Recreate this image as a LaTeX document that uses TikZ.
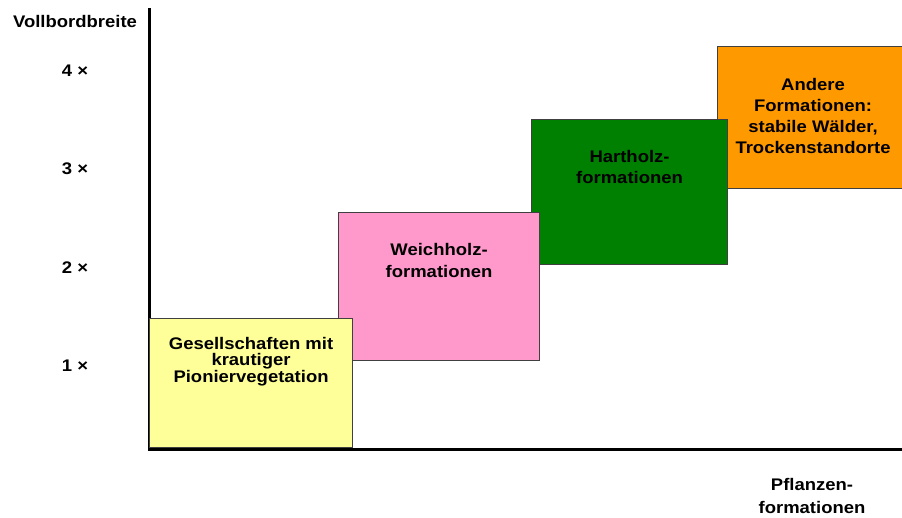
\documentclass[tikz,border=0pt]{standalone}
\usepackage{fontspec}
\setmainfont{Liberation Sans}[FakeStretch=1.1]
\usepackage{xcolor}
\usepackage{tikz}
\usetikzlibrary{positioning}

\definecolor{pionier}{HTML}{FFFF99}
\definecolor{weichholz}{HTML}{FF99CC}
\definecolor{hartholz}{HTML}{008000}
\definecolor{andere}{HTML}{FF9900}

\begin{document}
\begin{tikzpicture}[
  x=1pt, y=-1pt,
  formbox/.style={rectangle, draw=black!75, line width=1.1pt, anchor=north west,
    inner sep=0pt},
  boxtext/.style={font=\fontsize{16.8}{21}\selectfont\bfseries, align=center,
    inner sep=0pt, text=black},
  ticklabel/.style={font=\fontsize{16.8}{21}\selectfont\bfseries, inner sep=0pt,
    anchor=base},
  axis/.style={line width=3pt, black},
  node distance=20pt
]
\useasboundingbox (0,0) rectangle (902,517);

% Axes
\coordinate (origin) at (149,449);
\coordinate (ytop) at (149,8);
\coordinate (xend) at (902,449);
\draw[axis] (ytop) -- (origin) -- (xend);

% Axis labels
\node[ticklabel] (ylabel) at (75,27) {Vollbordbreite};
\foreach \n/\yb in {4/76,3/174.5,2/273,1/371.5}
  \node[ticklabel] (tick\n) at (75,\yb) {\n\ ×};
\node[boxtext, font=\fontsize{16.8}{23}\selectfont\bfseries] (xlabel) at (812,496)
  {Pflanzen-\\formationen};

% Formation boxes, from back to front
\node[formbox, fill=andere, minimum width=191pt, minimum height=142pt]
  (andere) at (717,46) {};
\node[formbox, fill=hartholz, minimum width=196pt, minimum height=145pt]
  (hart) at (531,119) {};
\node[formbox, fill=weichholz, minimum width=201pt, minimum height=148pt]
  (weich) at (338,212) {};
\node[formbox, fill=pionier, minimum width=203pt, minimum height=129pt]
  (pionier) at (149,318) {};

% Box texts
\node[boxtext, below=32pt of andere.north] (anderetxt)
  {Andere\\Formationen:\\stabile Wälder,\\Trockenstandorte};
\node[boxtext, below=31pt of hart.north] (harttxt)
  {Hartholz-\\formationen};
\node[boxtext, font=\fontsize{16.8}{22.5}\selectfont\bfseries,
  below=31pt of weich.north] (weichtxt)
  {Weichholz-\\formationen};
\node[boxtext, font=\fontsize{16.8}{16.6}\selectfont\bfseries,
  below=19pt of pionier.north] (pioniertxt)
  {Gesellschaften mit\\krautiger\\Pioniervegetation};

\end{tikzpicture}
\end{document}
